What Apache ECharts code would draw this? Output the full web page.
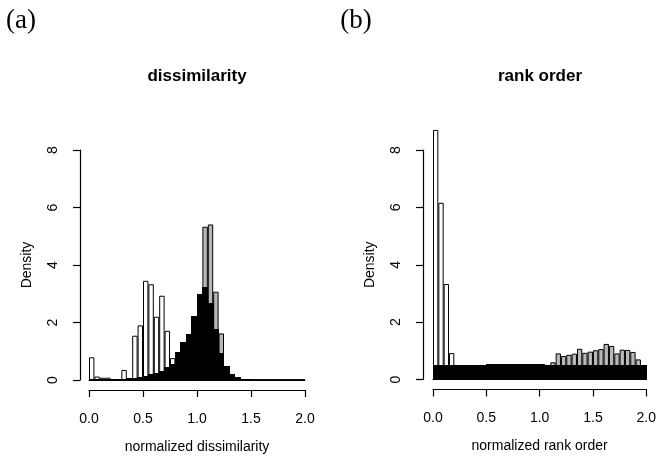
<!DOCTYPE html>
<html>
<head>
<meta charset="utf-8">
<script src="https://cdn.jsdelivr.net/npm/echarts@6/dist/echarts.min.js"></script>
<style>
    html, body { margin: 0; padding: 0; background: #fff; }
    #chart { width: 659px; height: 461px; }
</style>
</head>
<body>
<div id="chart"></div>
<script>
    // bin start of each histogram cell (width 0.05)
    var bins = ['0.00','0.05','0.10','0.15','0.20','0.25','0.30','0.35','0.40','0.45',
                '0.50','0.55','0.60','0.65','0.70','0.75','0.80','0.85','0.90','0.95',
                '1.00','1.05','1.10','1.15','1.20','1.25','1.30','1.35','1.40','1.45',
                '1.50','1.55','1.60','1.65','1.70','1.75','1.80','1.85','1.90','1.95'];

    // (a) dissimilarity
    var dissWhite = [0.79,0.12,0.08,0.08,0.02,0.03,0.35,0.05,1.54,1.90,
                     3.45,3.33,2.20,2.93,1.71,0.76,0.40,0.25,0.15,0.10,
                     0.05,0.03,0,0,0,0,0,0,0,0,
                     0,0,0,0,0,0,0,0,0,0];
    var dissGray = [0,0,0,0,0,0,0,0,0,0,
                    0,0,0,0,0.10,0.15,0.20,0.40,0.70,1.20,
                    2.40,5.33,5.41,3.07,1.62,0.40,0.10,0,0,0,
                    0,0,0,0,0,0,0,0,0,0];
    var dissBlack = [0.03,0.02,0.02,0.02,0.01,0.02,0.03,0.04,0.06,0.09,
                     0.13,0.18,0.24,0.30,0.42,0.55,0.95,1.32,1.60,2.20,
                     2.98,3.23,2.65,1.75,0.93,0.47,0.20,0.07,0.03,0.01,
                     0,0,0,0,0,0,0,0,0,0];

    // (b) rank order
    var rankWhite = [8.70,6.16,3.33,0.92,0.30,0.15,0.05,0,0,0,
                     0,0,0,0,0,0,0,0,0,0,
                     0,0,0,0,0,0,0,0,0,0,
                     0,0,0,0,0,0,0,0,0,0];
    var rankGray = [0,0,0,0,0,0,0,0,0,0,
                    0.05,0.08,0.10,0.12,0.15,0.20,0.25,0.30,0.33,0.36,
                    0.40,0.45,0.60,0.91,0.82,0.86,0.90,1.07,0.93,0.97,
                    1.02,1.06,1.24,1.17,0.91,1.04,1.03,0.96,0.70,0.45];
    var rankBlack = [0.49,0.49,0.49,0.49,0.49,0.49,0.49,0.49,0.49,0.49,
                     0.51,0.51,0.51,0.51,0.51,0.51,0.51,0.51,0.51,0.51,
                     0.51,0.50,0.50,0.50,0.50,0.50,0.50,0.50,0.50,0.50,
                     0.50,0.50,0.50,0.50,0.50,0.50,0.50,0.50,0.50,0.50];

    var FONT = '"Liberation Sans", Arial, sans-serif';
    var chart = echarts.init(document.getElementById('chart'), null, {renderer: 'canvas'});

    function valueX(grid, name) {
        return {
            gridIndex: grid, type: 'value', position: 'bottom', offset: 10,
            min: 0, max: 2, interval: 0.5,
            axisLine: {onZero: false, lineStyle: {color: '#000', width: 1.2}},
            axisTick: {length: 7, lineStyle: {color: '#000', width: 1.2}},
            axisLabel: {color: '#000', fontSize: 14, fontFamily: FONT, margin: 22,
                        formatter: function (v) { return v.toFixed(1); }},
            splitLine: {show: false},
            name: name, nameLocation: 'middle', nameGap: 50,
            nameTextStyle: {color: '#000', fontSize: 14, fontFamily: FONT}
        };
    }
    function binX(grid) {
        return {
            gridIndex: grid, type: 'category', data: bins, position: 'bottom',
            boundaryGap: true,
            axisLine: {onZero: true, lineStyle: {color: '#000', width: 1}},
            axisTick: {show: false}, axisLabel: {show: false}, splitLine: {show: false}
        };
    }
    function densY(grid, off) {
        return {
            gridIndex: grid, type: 'value', min: 0, max: 8, interval: 2, offset: off,
            axisLine: {show: true, onZero: false, lineStyle: {color: '#000', width: 1.2}},
            axisTick: {show: true, length: 7, lineStyle: {color: '#000', width: 1.2}},
            axisLabel: {color: '#000', fontSize: 14, fontFamily: FONT, rotate: 90, margin: 20},
            splitLine: {show: false},
            name: 'Density', nameLocation: 'middle', nameGap: 46, nameRotate: 90,
            nameTextStyle: {color: '#000', fontSize: 14, fontFamily: FONT}
        };
    }
    function hist(xi, yi, data, fill) {
        return {
            type: 'bar', xAxisIndex: xi, yAxisIndex: yi, data: data,
            barWidth: '100%', barGap: '-100%', barCategoryGap: 0, clip: false,
            silent: true, z: 2,
            itemStyle: {color: fill, borderColor: '#000', borderWidth: 1}
        };
    }
    // solid black histogram drawn as touching cells on whole pixels (no seams)
    function solidHist(xi, yi, data) {
        return {
            type: 'custom', xAxisIndex: xi, yAxisIndex: yi, silent: true, z: 5,
            data: data.map(function (v, i) { return [i, v]; }),
            encode: {x: 0, y: 1},
            renderItem: function (params, api) {
                var v = api.value(1);
                if (!(v > 0)) return null;
                var top = api.coord([api.value(0), v]);
                var base = api.coord([api.value(0), 0]);
                var w = api.size([1, 0])[0];
                var x0 = Math.floor(top[0] - w / 2), x1 = Math.ceil(top[0] + w / 2);
                var y0 = Math.round(top[1] - 0.5), y1 = Math.round(base[1]);
                return {
                    type: 'rect',
                    shape: {x: x0, y: y0, width: x1 - x0, height: Math.max(1, y1 - y0)},
                    style: {fill: '#000'}
                };
            }
        };
    }

    var option = {
        animation: false,
        grid: [
            {left: 89, right: 354, top: 150, bottom: 81},
            {left: 433, right: 11, top: 150, bottom: 81.5}
        ],
        xAxis: [
            valueX(0, 'normalized dissimilarity'), binX(0),
            valueX(1, 'normalized rank order'), binX(1)
        ],
        yAxis: [densY(0, 9), densY(1, 10)],
        graphic: [
            {type: 'text', x: 21, y: 21, style: {text: '(a)', fill: '#000', font: '27px "Liberation Serif", serif', align: 'center', verticalAlign: 'middle'}},
            {type: 'text', x: 356, y: 21, style: {text: '(b)', fill: '#000', font: '27px "Liberation Serif", serif', align: 'center', verticalAlign: 'middle'}},
            {type: 'text', x: 197, y: 76, style: {text: 'dissimilarity', fill: '#000', font: 'bold 17px ' + FONT, align: 'center', verticalAlign: 'middle'}},
            {type: 'text', x: 540, y: 76, style: {text: 'rank order', fill: '#000', font: 'bold 17px ' + FONT, align: 'center', verticalAlign: 'middle'}}
        ],
        series: [
            hist(1, 0, dissWhite, '#ffffff'),
            hist(1, 0, dissGray, '#b8b8b8'),
            solidHist(1, 0, dissBlack),
            hist(3, 1, rankWhite, '#ffffff'),
            hist(3, 1, rankGray, '#b8b8b8'),
            solidHist(3, 1, rankBlack)
        ]
    };
    chart.setOption(option);
</script>
</body>
</html>
